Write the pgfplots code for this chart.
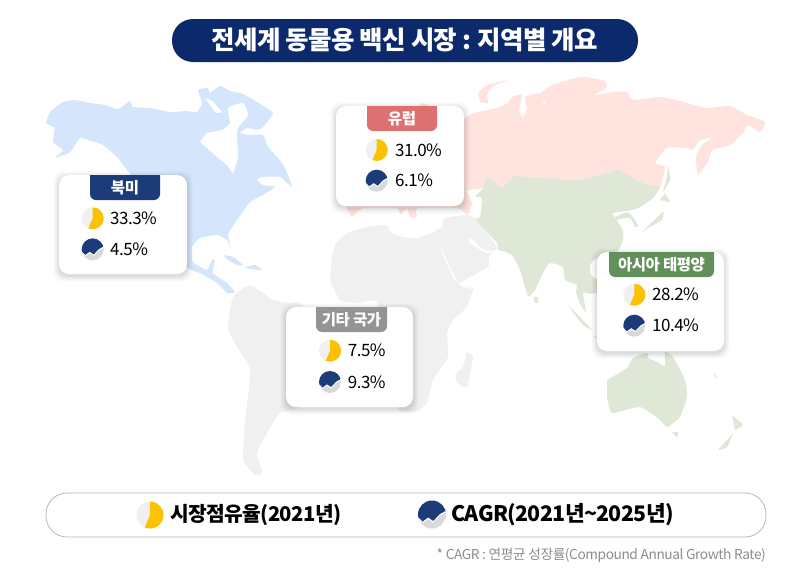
\documentclass[border=0pt]{standalone}
\usepackage{pgfplots}
\pgfplotsset{compat=1.18}
\usepackage{fontspec}
\setmainfont{Noto Sans CJK KR}[LetterSpace=-3]
\definecolor{mapblue}{HTML}{D5E5FB}
\definecolor{mappink}{HTML}{FEE3DF}
\definecolor{mapgreen}{HTML}{DFE8D6}
\definecolor{mapgray}{HTML}{F0F0F0}
\definecolor{navy}{HTML}{1B3C78}
\definecolor{titlenavy}{HTML}{0C2A6B}
\definecolor{tabred}{HTML}{DD7070}
\definecolor{tabgray}{HTML}{949494}
\definecolor{tabgreen}{HTML}{63905A}
\definecolor{pieyellow}{HTML}{FDC100}
\definecolor{piebg}{HTML}{F0F0F2}
\definecolor{lowgray}{HTML}{D9D9DB}
\pgfplotsset{land/.style={fill=#1,draw=none,smooth,tension=0.3}}
\newcommand{\pieicon}[3]{%
  \fill[piebg] (#1,#2) circle (#3pt);
  \fill[pieyellow] (#1,#2) -- ++(90:#3pt) arc[start angle=90,end angle=-113,radius=#3pt] -- cycle;
}
\newcommand{\cagricon}[3]{%
  \begin{scope}[shift={(axis cs:#1,#2)},scale=#3/11]
    \clip (0pt,0pt) circle (11pt);
    \fill[lowgray] (0pt,0pt) circle (11pt);
    \fill[white] (-12pt,-2pt) -- (-7.5pt,-6.8pt) -- (-3pt,-3.6pt) -- (1pt,-6.3pt) -- (6pt,-1pt) -- (12pt,2.3pt) -- (12pt,12pt) -- (-12pt,12pt) -- cycle;
    \fill[navy] (-12pt,-0.7pt) -- (-7.5pt,-5.5pt) -- (-3pt,-2.3pt) -- (1pt,-5pt) -- (6pt,0.3pt) -- (12pt,3.6pt) -- (12pt,12pt) -- (-12pt,12pt) -- cycle;
  \end{scope}
}
\newcommand{\shadowlayer}[6]{\fill[black,opacity=#6,rounded corners=10pt] (#1-#5,#2-#5+2) rectangle (#3+#5,#4+#5+2);}
\newcommand{\card}[9]{% x1 y1 x2 y2 tabx1 tabx2 colour label textcolor
  \shadowlayer{#1}{#2}{#3}{#4}{6}{0.012}
  \shadowlayer{#1}{#2}{#3}{#4}{5}{0.016}
  \shadowlayer{#1}{#2}{#3}{#4}{4}{0.02}
  \shadowlayer{#1}{#2}{#3}{#4}{3}{0.025}
  \shadowlayer{#1}{#2}{#3}{#4}{2}{0.03}
  \shadowlayer{#1}{#2}{#3}{#4}{1}{0.04}
  \fill[white,rounded corners=10pt] (#1,#2) rectangle (#3,#4);
  \begin{scope}
    \clip (#5,#2) rectangle (#6,#2+26);
    \fill[#7,rounded corners=6pt] (#5,#2-12) rectangle (#6,#2+25);
  \end{scope}
  \node[text=#9,font=\fontsize{15.5}{15.5}\selectfont\bfseries,inner sep=0pt] at ({(#5+#6)/2},#2+12.5) {#8};
}
\newcommand{\val}[3]{\node[anchor=west,inner sep=0pt,font=\fontsize{17}{17}\selectfont] at (#1,#2) {#3};}
\begin{document}
\begin{tikzpicture}
\useasboundingbox (0,0) rectangle (810pt,581pt);
\begin{axis}[scale only axis,width=810pt,height=581pt,xmin=0,xmax=810,ymin=0,ymax=581,y dir=reverse,hide axis,clip=false,anchor=south west,at={(0,0)}]
% North America
\addplot[land=mapblue] coordinates {(46,123)(50,112)(63,102)(75,100)(90,103)(105,105)(118,109)(130,101)(133,107)(150,108)(170,112)(187,111)(197,112)(202,103)(198,90)(208,88)(210,93)(220,86)(230,91)(243,94)(257,102)(273,113)(263,127)(257,130)(247,128)(240,133)(250,135)(263,135)(268,147)(278,158)(285,168)(292,187)(280,177)(263,177)(257,180)(263,185)(275,187)(263,195)(250,202)(242,213)(230,230)(228,235)(231,248)(227,240)(217,235)(200,238)(192,247)(193,262)(207,270)(212,260)(215,260)(213,273)(227,283)(235,292)(227,293)(217,283)(200,273)(187,267)(150,220)(132,177)(127,170)(117,157)(103,145)(88,140)(80,138)(70,152)(55,158)(63,150)(53,142)(55,128)};
\addplot[land=white] coordinates {(200,142)(207,133)(222,130)(230,123)(228,108)(243,103)(248,115)(238,128)(237,137)(238,157)(233,173)(227,165)(217,157)};
\addplot[land=white] coordinates {(205,98)(212,101)(222,112)(216,113)};
\addplot[land=mapblue] coordinates {(223,255)(233,257)(243,265)(237,265)(228,260)};
\addplot[land=mapblue] coordinates {(245,267)(255,265)(262,270)(250,269)};
% Russia and Europe
\addplot[land=mappink] coordinates {(463,120)(473,113)(497,108)(508,103)(512,97)(522,95)(519,110)(523,117)(527,108)(525,97)(541,93)(544,106)(545,103)(541,93)(552,85)(572,79)(582,77)(603,80)(607,87)(595,95)(613,92)(627,92)(633,100)(660,97)(677,100)(687,103)(707,108)(730,106)(747,115)(765,122)(760,132)(748,125)(743,133)(730,145)(712,150)(708,162)(698,175)(696,157)(702,145)(712,138)(700,140)(693,150)(687,148)(667,148)(655,163)(665,167)(660,187)(647,185)(633,178)(618,170)(600,175)(577,180)(547,178)(530,178)(515,176)(502,187)(487,177)(483,188)(468,190)(467,192)(472,203)(468,215)(457,208)(417,208)(417,217)(410,217)(407,208)(400,215)(397,208)(363,208)(352,217)(347,208)(340,190)(340,130)(417,106)(423,103)(430,106)};
\addplot[land=mappink] coordinates {(478,93)(487,85)(507,80)(492,87)(487,95)(488,103)(480,102)};
% Africa and the Middle East
\addplot[land=mapgray] coordinates {(332,257)(335,245)(347,233)(367,227)(387,225)(390,232)(403,237)(417,238)(433,232)(442,227)(445,218)(468,215)(477,220)(497,247)(495,250)(489,257)(488,267)(460,283)(473,288)(473,290)(467,307)(453,320)(447,333)(448,357)(433,380)(427,403)(417,411)(400,411)(392,393)(380,353)(377,302)(357,303)(340,300)(330,280)};
\addplot[land=white] coordinates {(440,245)(448,263)(458,282)(472,289)(463,287)(453,277)(442,253)};
\addplot[land=white] coordinates {(468,238)(473,240)(483,250)(495,251)(487,253)(477,248)(470,243)};
\addplot[land=mapgray] coordinates {(467,352)(473,357)(467,387)(458,383)(455,375)(463,367)};
% South America
\addplot[land=mapgray] coordinates {(228,323)(233,297)(250,285)(273,300)(290,303)(300,303)(330,330)(340,370)(300,407)(280,413)(267,433)(257,453)(262,473)(255,475)(243,460)(245,423)(250,370)(237,347)(228,330)};
% Asia and the Pacific
\addplot[land=mapgreen] coordinates {(483,188)(487,177)(502,187)(515,176)(530,178)(547,178)(577,180)(600,175)(618,170)(633,178)(647,185)(660,187)(653,198)(640,207)(633,210)(613,213)(615,217)(627,212)(633,217)(638,226)(635,227)(630,218)(617,220)(623,230)(623,240)(617,252)(597,258)(590,265)(591,275)(597,280)(597,292)(590,294)(583,293)(586,312)(580,304)(576,292)(577,285)(565,280)(563,267)(550,263)(543,273)(535,290)(528,296)(520,270)(512,255)(500,250)(498,250)(497,243)(476,220)(480,217)(482,198)(475,197)};
\addplot[land=mapgreen] coordinates {(568,305)(580,317)(592,330)(583,325)(575,315)};
\addplot[land=mapgreen] coordinates {(592,336)(598,337)(597,338)};
\addplot[land=mapgreen] coordinates {(534,297)(538,297)(538,303)(534,302)};
\addplot[land=mapgreen] coordinates {(642,232)(663,212)(662,220)(648,228)};
\addplot[land=mapgreen] coordinates {(668,165)(670,180)(663,192)(667,177)};
\addplot[land=mapgreen] coordinates {(665,193)(670,202)(660,200)};
\addplot[land=mapgreen] coordinates {(607,380)(627,368)(633,358)(647,353)(648,358)(657,362)(665,366)(665,352)(673,357)(685,380)(687,397)(680,417)(667,427)(660,420)(640,407)(612,413)(607,397)};
\addplot[land=mapgreen] coordinates {(732,415)(743,425)(735,430)};
\addplot[land=mapgreen] coordinates {(733,433)(727,447)(718,450)(730,437)};
\addplot[land=mapgreen] coordinates {(672,432)(678,432)(677,438)};
\addplot[land=mapgreen] coordinates {(713,373)(718,378)(715,377)};
% title
\fill[titlenavy,rounded corners=21pt] (172,19) rectangle (638,62);
\node[text=white,font=\fontsize{25.5}{25.5}\selectfont\bfseries,inner sep=0pt] at (405,40) {전세계 동물용 백신 시장 : 지역별 개요};
% cards
\card{59}{175}{187}{274}{90}{160}{navy}{북미}{white}
\pieicon{92.7}{218.3}{11}
\cagricon{92.7}{249.4}{11}
\val{110}{218.3}{33.3\%}
\val{110}{249.4}{4.5\%}
\card{336}{106}{464}{206}{367}{437}{tabred}{유럽}{white}
\pieicon{376.7}{150}{11}
\cagricon{376.7}{180.7}{11}
\val{395}{150}{31.0\%}
\val{395}{180.7}{6.1\%}
\card{286}{307}{413}{407}{316}{387}{tabgray}{기타 국가}{white}
\pieicon{330}{350.7}{11}
\cagricon{330}{382}{11}
\val{347.7}{350.7}{7.5\%}
\val{347.7}{382}{9.3\%}
\card{597}{252}{724}{351}{609}{714}{tabgreen}{아시아 태평양}{white}
\pieicon{634.3}{294.7}{11}
\cagricon{634.3}{325.7}{11}
\val{652}{294.7}{28.2\%}
\val{652}{325.7}{10.4\%}
% legend
\draw[color=black!28,fill=white,line width=0.8pt,rounded corners=21pt] (46,493) rectangle (766,537);
\pieicon{150}{515}{13.5}
\node[anchor=west,inner sep=0pt,font=\fontsize{20.3}{20.3}\selectfont\bfseries] at (170,515) {시장점유율(2021년)};
\cagricon{432}{514.5}{14}
\node[anchor=west,inner sep=0pt,font=\fontsize{21.4}{21.4}\selectfont\bfseries] at (451,515) {CAGR(2021년\textasciitilde 2025년)};
\node[anchor=east,inner sep=0pt,text=black!45,font=\fontsize{13.7}{13.7}\selectfont] at (766,555) {* CAGR : 연평균 성장률(Compound Annual Growth Rate)};
\end{axis}
\end{tikzpicture}
\end{document}
